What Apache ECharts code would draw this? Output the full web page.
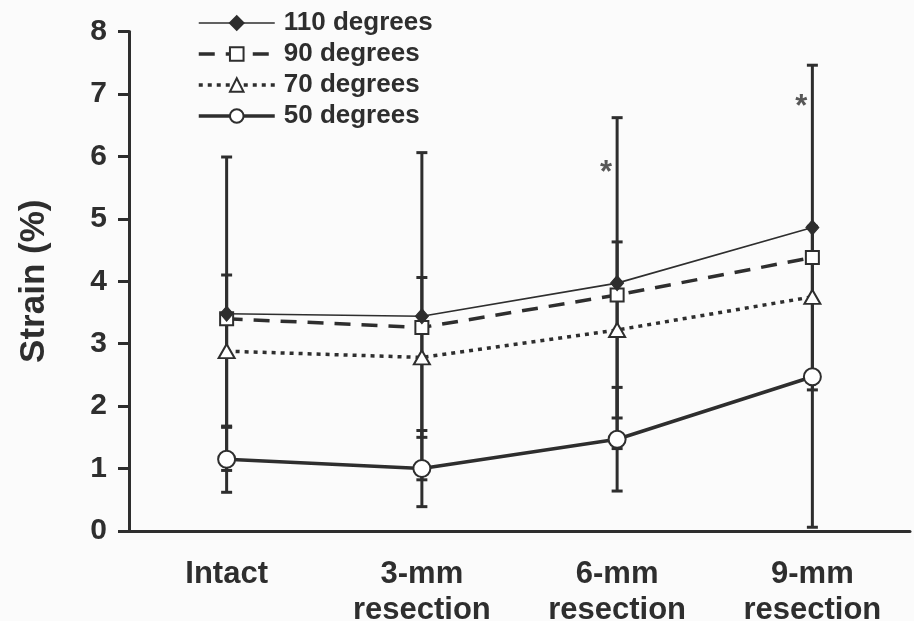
<!DOCTYPE html>
<html>
<head>
<meta charset="utf-8">
<script src="https://cdn.jsdelivr.net/npm/echarts@6/dist/echarts.min.js"></script>
<style>
html,body{margin:0;padding:0;background:#fbfbfb;}
#chart{width:914px;height:621px;}
</style>
</head>
<body>
<div id="chart"></div>
<script>
// ---- data ----
const categories = ['Intact', '3-mm\nresection', '6-mm\nresection', '9-mm\nresection'];
const seriesNames = ['110 degrees', '90 degrees', '70 degrees', '50 degrees'];
const deg110 = [3.48, 3.44, 3.97, 4.86];
const deg90  = [3.40, 3.26, 3.78, 4.38];
const deg70  = [2.88, 2.78, 3.22, 3.75];
const deg50  = [1.15, 1.00, 1.47, 2.47];
const sd110 = [2.51, 2.62, 2.65, 2.60];
const sd90  = [null, null, null, null];
const sd70  = [1.22, 1.28, 1.41, null];
const sd50  = [0.53, 0.61, 0.83, 2.41];
const starCats = [2, 3];
const starValues = [5.72, 6.78];
const yTicks = [0, 1, 2, 3, 4, 5, 6, 7, 8];

const INK = '#2e2e2e';
const FONT = 'Liberation Sans, Arial, sans-serif';

function errData(means, sds) {
  const out = [];
  means.forEach((m, i) => {
    if (sds[i] != null) out.push([i, m - sds[i], m + sds[i]]);
  });
  return out;
}
const errAll = [].concat(errData(deg110, sd110), errData(deg90, sd90), errData(deg70, sd70), errData(deg50, sd50));

function renderErr(params, api) {
  const x = api.value(0);
  const lo = api.coord([x, api.value(1)]);
  const hi = api.coord([x, api.value(2)]);
  const hw = 5.5;
  const st = { stroke: INK, lineWidth: 3 };
  return {
    type: 'group',
    children: [
      { type: 'line', shape: { x1: lo[0], y1: lo[1], x2: hi[0], y2: hi[1] }, style: st },
      { type: 'line', shape: { x1: lo[0] - hw, y1: lo[1], x2: lo[0] + hw, y2: lo[1] }, style: st },
      { type: 'line', shape: { x1: hi[0] - hw, y1: hi[1], x2: hi[0] + hw, y2: hi[1] }, style: st }
    ]
  };
}

const lineWidths = [1.6, 3.5, 3.5, 3.5];
const lineTypes = ['solid', [16, 11], [4, 5], 'solid'];

const chart = echarts.init(document.getElementById('chart'), null, { renderer: 'canvas' });
const lineCommon = { type: 'line', z: 5, animation: false, itemStyle: { color: '#ffffff', borderColor: INK, borderWidth: 2 } };

chart.setOption({
  backgroundColor: '#fbfbfb',
  animation: false,
  grid: { left: 129, right: 4, top: 31.5, bottom: 90, containLabel: false, outerBoundsMode: 'none' },
  legend: {
    data: seriesNames.map((n, i) => ({ name: n, lineStyle: { width: lineWidths[i], type: lineTypes[i], color: INK } })),
    orient: 'vertical',
    left: 192,
    top: 5,
    itemWidth: 76,
    itemHeight: 17,
    itemGap: 5,
    textStyle: { fontFamily: FONT, fontWeight: 'bold', fontSize: 26, color: INK, lineHeight: 26, padding: [0, 0, 0, 4] }
  },
  xAxis: {
    type: 'category',
    data: categories,
    boundaryGap: true,
    axisLine: { show: true, lineStyle: { color: INK, width: 3 } },
    axisTick: { show: false },
    axisLabel: { interval: 0, fontFamily: FONT, fontWeight: 'bold', fontSize: 31, color: INK, lineHeight: 36, margin: 25 },
    splitLine: { show: false }
  },
  yAxis: {
    type: 'value',
    min: yTicks[0],
    max: yTicks[yTicks.length - 1],
    interval: 1,
    name: 'Strain (%)',
    nameLocation: 'middle',
    nameGap: 77,
    nameTextStyle: { fontFamily: FONT, fontWeight: 'bold', fontSize: 35, color: INK },
    axisLine: { show: true, lineStyle: { color: INK, width: 3 } },
    axisTick: { show: true, length: 11, lineStyle: { color: INK, width: 3 } },
    axisLabel: { fontFamily: FONT, fontWeight: 'bold', fontSize: 30, color: INK, margin: 22 },
    splitLine: { show: false }
  },
  series: [
    {
      type: 'custom',
      name: 'err',
      z: 2,
      silent: true,
      renderItem: renderErr,
      encode: { x: 0, y: [1, 2] },
      data: errAll
    },
    Object.assign({}, lineCommon, {
      name: seriesNames[0], data: deg110, symbol: 'diamond', symbolSize: [13, 15],
      lineStyle: { color: INK, width: lineWidths[0], type: lineTypes[0] },
      itemStyle: { color: INK, borderColor: INK, borderWidth: 1 }, z: 8
    }),
    Object.assign({}, lineCommon, {
      name: seriesNames[1], data: deg90, symbol: 'rect', symbolSize: 13,
      lineStyle: { color: INK, width: lineWidths[1], type: lineTypes[1] }, z: 7
    }),
    Object.assign({}, lineCommon, {
      name: seriesNames[2], data: deg70, symbol: 'triangle', symbolSize: [16, 14],
      lineStyle: { color: INK, width: lineWidths[2], type: lineTypes[2] }, z: 6
    }),
    Object.assign({}, lineCommon, {
      name: seriesNames[3], data: deg50, symbol: 'circle', symbolSize: 17,
      lineStyle: { color: INK, width: lineWidths[3], type: lineTypes[3] }, z: 5
    }),
    {
      type: 'scatter',
      name: 'stars',
      silent: true,
      symbolSize: 0,
      data: starCats.map((c, i) => [c, starValues[i]]),
      label: { show: true, formatter: '*', position: 'inside', offset: [-11, 0], fontFamily: FONT, fontWeight: 'bold', fontSize: 31, color: INK }
    }
  ]
});
</script>
</body>
</html>
